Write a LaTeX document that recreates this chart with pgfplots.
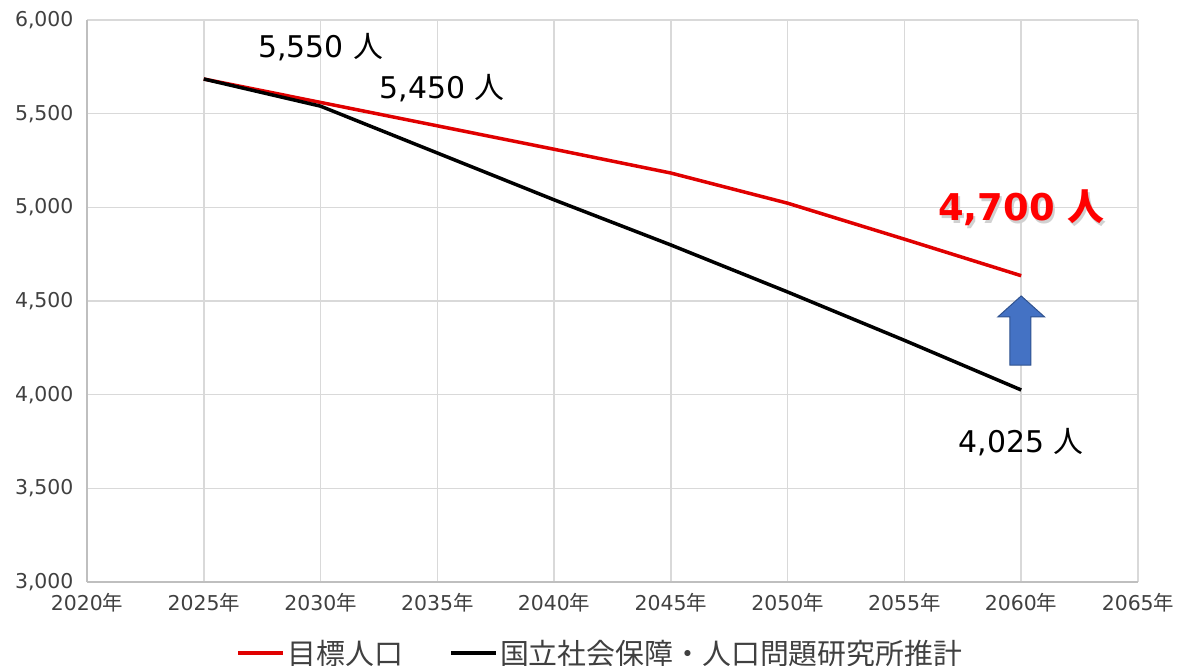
\documentclass[border=0pt]{standalone}
\usepackage{fontspec}
\setmainfont{DejaVu Sans}
\newfontfamily\cjk{Noto Sans CJK JP}
\usepackage{pgfplots}
\pgfplotsset{compat=1.18}
\definecolor{gridc}{HTML}{D9D9D9}
\definecolor{axc}{HTML}{BFBFBF}
\definecolor{tickc}{HTML}{404040}
\definecolor{redline}{HTML}{E00000}
\definecolor{arrowfill}{HTML}{4472C4}
\definecolor{arrowdraw}{HTML}{2F528F}
\begin{document}
\begin{tikzpicture}[x=1bp,y=1bp]
\path[use as bounding box] (0,0) rectangle (1184,666);
\begin{axis}[
  at={(87bp,84bp)}, anchor=south west,
  scale only axis, width=1051bp, height=562bp,
  xmin=2020, xmax=2065, ymin=3000, ymax=6000,
  xtick={2020,2025,2030,2035,2040,2045,2050,2055,2060,2065},
  xticklabels={2020{\cjk 年},2025{\cjk 年},2030{\cjk 年},2035{\cjk 年},2040{\cjk 年},2045{\cjk 年},2050{\cjk 年},2055{\cjk 年},2060{\cjk 年},2065{\cjk 年}},
  ytick={3000,3500,4000,4500,5000,5500,6000},
  yticklabels={{3,000},{3,500},{4,000},{4,500},{5,000},{5,500},{6,000}},
  /pgf/number format/assume math mode=true,
  ticklabel style={font=\fontsize{20.5}{23}\selectfont, text=tickc},
  yticklabel style={xshift=-10bp},
  xticklabel style={yshift=-8bp},
  major tick length=0pt,
  axis lines=left,
  axis line style={-, draw=axc, line width=1.5bp},
  grid=major,
  major grid style={draw=gridc, line width=1.5bp},
  legend style={at={(0.4885,-0.127)}, anchor=center, draw=none, fill=none,
    font=\cjk\fontsize{29}{32}\selectfont, text=tickc,
    /tikz/every odd column/.append style={column sep=0bp},
    /tikz/every even column/.append style={column sep=44bp}},
  legend columns=2,
  legend image code/.code={\draw[#1, line width=4bp] (-2bp,0bp) -- (43bp,0bp);},
  clip=false,
]
\addplot[redline, line width=3.5bp] coordinates {
 (2025,5685) (2030,5560) (2035,5435) (2040,5310) (2045,5183) (2050,5022) (2055,4830) (2060,4635)};
\addlegendentry{目標人口}
\addplot[black, line width=3.5bp] coordinates {
 (2025,5685) (2030,5540) (2035,5290) (2040,5040) (2045,4799) (2050,4548) (2055,4290) (2060,4025)};
\addlegendentry{国立社会保障・人口問題研究所推計}
\node[font=\fontsize{30}{33}\selectfont] at (axis cs:2030,5856) {5,550 {\cjk 人}};
\node[font=\fontsize{30}{33}\selectfont] at (axis cs:2035.2,5637) {5,450 {\cjk 人}};
\node[font=\fontsize{30}{33}\selectfont] at (axis cs:2060,3747) {4,025 {\cjk 人}};
\node[font=\bfseries\fontsize{37}{40}\selectfont, text=black!18] at ([shift={(2bp,-2.5bp)}]axis cs:2060,4996) {4,700 {\cjk\bfseries 人}};
\node[font=\bfseries\fontsize{37}{40}\selectfont, text=red] at (axis cs:2060,4996) {4,700 {\cjk\bfseries 人}};
\draw[fill=arrowfill, draw=arrowdraw, line width=1bp]
  (axis cs:2059.51,4158) -- (axis cs:2059.51,4415) -- (axis cs:2059.0,4415) --
  (axis cs:2060,4527) -- (axis cs:2061.0,4415) -- (axis cs:2060.41,4415) --
  (axis cs:2060.41,4158) -- cycle;
\end{axis}
\end{tikzpicture}
\end{document}
